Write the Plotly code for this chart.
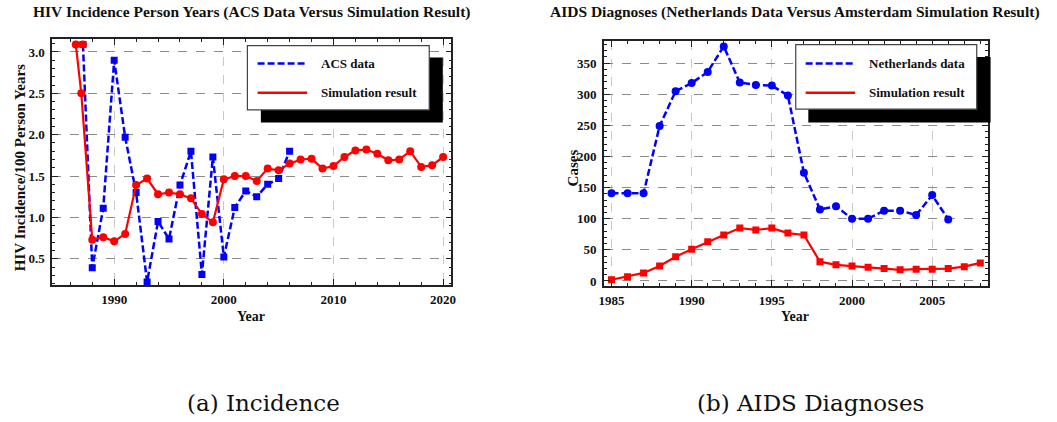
import plotly.graph_objects as go

W, H = 1057, 422

# ---------------- data: (a) Incidence ----------------
acs_years = [1987.15, 1988, 1989, 1990, 1991, 1992, 1993, 1994, 1995, 1996, 1997,
             1998, 1999, 2000, 2001, 2002, 2003, 2004, 2005, 2006]
acs_values = [3.09, 0.39, 1.11, 2.90, 1.97, 1.30, 0.22, 0.95, 0.74, 1.39, 1.80,
              0.31, 1.73, 0.52, 1.12, 1.32, 1.25, 1.40, 1.47, 1.80]

sim_a_years = [1987.15, 1986.5, 1987, 1988, 1989, 1990, 1991, 1992, 1993, 1994, 1995,
               1996, 1997, 1998, 1999, 2000, 2001, 2002, 2003, 2004, 2005, 2006,
               2007, 2008, 2009, 2010, 2011, 2012, 2013, 2014, 2015, 2016, 2017,
               2018, 2019, 2020]
sim_a_values = [3.09, 3.09, 2.50, 0.73, 0.76, 0.71, 0.80, 1.39, 1.47, 1.28, 1.30,
                1.28, 1.23, 1.04, 0.94, 1.46, 1.50, 1.50, 1.44, 1.59, 1.57, 1.65,
                1.70, 1.71, 1.59, 1.62, 1.73, 1.81, 1.82, 1.77, 1.69, 1.70, 1.80,
                1.61, 1.63, 1.73]

# ---------------- data: (b) AIDS Diagnoses ----------------
nl_years = [1985, 1986, 1987, 1988, 1989, 1990, 1991, 1992, 1993, 1994, 1995,
            1996, 1997, 1998, 1999, 2000, 2001, 2002, 2003, 2004, 2005, 2006]
nl_values = [141, 141, 141, 249, 305, 318, 336, 377, 319, 315, 314,
             298, 174, 115, 120, 100, 100, 113, 113, 106, 138, 99]

sim_b_years = [1985, 1986, 1987, 1988, 1989, 1990, 1991, 1992, 1993, 1994, 1995,
               1996, 1997, 1998, 1999, 2000, 2001, 2002, 2003, 2004, 2005, 2006,
               2007, 2008]
sim_b_values = [2, 7, 13, 24, 39, 51, 63, 74, 85, 82, 85,
                77, 74, 31, 26, 24, 22, 20, 18, 19, 19, 20, 23, 29]

title_a = "HIV Incidence Person Years (ACS Data Versus Simulation Result)"
title_b = "AIDS Diagnoses (Netherlands Data Versus Amsterdam Simulation Result)"
ylabel_a = "HIV Incidence/100 Person Years"
ylabel_b = "Cases"
xlabel = "Year"
legend_a = ["ACS data", "Simulation result"]
legend_b = ["Netherlands data", "Simulation result"]
caption_a = "(a) Incidence"
caption_b = "(b) AIDS Diagnoses"

BLUE = "#0000ff"
RED = "#ff0000"
SERIF = "Liberation Serif, Times New Roman, serif"


def px(x):
    return x / W


def py(y):
    return 1 - y / H


fig = go.Figure()

fig.add_trace(go.Scatter(x=acs_years, y=acs_values, mode="lines+markers",
                         line=dict(color=BLUE, width=2.5, dash="7px,3px"),
                         marker=dict(symbol="square", size=7, color=BLUE),
                         xaxis="x", yaxis="y", showlegend=False))
fig.add_trace(go.Scatter(x=sim_a_years, y=sim_a_values, mode="lines+markers",
                         line=dict(color=RED, width=2.2),
                         marker=dict(symbol="circle", size=8, color=RED),
                         xaxis="x", yaxis="y", showlegend=False))
fig.add_trace(go.Scatter(x=nl_years, y=nl_values, mode="lines+markers",
                         line=dict(color=BLUE, width=2.5, dash="7px,3px"),
                         marker=dict(symbol="circle", size=8, color=BLUE),
                         xaxis="x2", yaxis="y2", showlegend=False))
fig.add_trace(go.Scatter(x=sim_b_years, y=sim_b_values, mode="lines+markers",
                         line=dict(color=RED, width=2.2),
                         marker=dict(symbol="square", size=7, color=RED),
                         xaxis="x2", yaxis="y2", showlegend=False))

tickfont = dict(family=SERIF, size=13, color="#111", weight="bold")
common = dict(showline=True, linecolor="#222", linewidth=1.8, mirror="ticks",
              ticks="inside", ticklen=6, tickwidth=1, tickcolor="#222",
              tickfont=tickfont, zeroline=False, showgrid=True, griddash="dash",
              gridwidth=1)

fig.update_layout(
    width=W, height=H, margin=dict(l=0, r=0, t=0, b=0),
    paper_bgcolor="white", plot_bgcolor="white", showlegend=False,
    xaxis=dict(domain=[px(47.7), px(450.7)], range=[1984.35, 2020.76],
               tickvals=[1990, 2000, 2010, 2020], gridcolor="#c8c8c8",
               minor=dict(dtick=2, tick0=1990, ticklen=3, ticks="inside", tickcolor="#222", showgrid=False),
               anchor="y", ticklabelstandoff=2, **common),
    yaxis=dict(domain=[py(287), py(39)], range=[0.183, 3.16],
               tickvals=[0.5, 1.0, 1.5, 2.0, 2.5, 3.0], tickformat=".1f", gridcolor="#8c8c8c",
               minor=dict(dtick=0.1, tick0=0, ticklen=3, ticks="inside", tickcolor="#222", showgrid=False),
               anchor="x", ticklabelstandoff=3, **common),
    xaxis2=dict(domain=[px(604.7), px(992.7)], range=[1984.53, 2008.5],
                tickvals=[1985, 1990, 1995, 2000, 2005], gridcolor="#c8c8c8",
                minor=dict(dtick=1, tick0=1985, ticklen=3, ticks="inside", tickcolor="#222", showgrid=False),
                anchor="y2", ticklabelstandoff=2, **common),
    yaxis2=dict(domain=[py(287.7), py(41.7)], range=[-7.5, 385],
                tickvals=[0, 50, 100, 150, 200, 250, 300, 350], gridcolor="#8c8c8c",
                minor=dict(dtick=10, tick0=0, ticklen=3, ticks="inside", tickcolor="#222", showgrid=False),
                anchor="x2", ticklabelstandoff=3, **common),
)

shapes = []
annotations = []


def add_legend(box, shadow, line_x, text_x, ys, labels):
    shapes.append(dict(type="rect", xref="paper", yref="paper", layer="above",
                       x0=px(shadow[0]), x1=px(shadow[1]), y0=py(shadow[3]), y1=py(shadow[2]),
                       fillcolor="black", line=dict(width=0)))
    shapes.append(dict(type="rect", xref="paper", yref="paper", layer="above",
                       x0=px(box[0]), x1=px(box[1]), y0=py(box[3]), y1=py(box[2]),
                       fillcolor="white", line=dict(color="#444", width=1.2)))
    styles = [dict(color=BLUE, width=2.5, dash="7px,3px"), dict(color=RED, width=2.5)]
    for y, lab, st in zip(ys, labels, styles):
        shapes.append(dict(type="line", xref="paper", yref="paper", layer="above",
                           x0=px(line_x[0]), x1=px(line_x[1]), y0=py(y), y1=py(y), line=st))
        annotations.append(dict(text="<b>%s</b>" % lab, xref="paper", yref="paper",
                                x=px(text_x), y=py(y), xanchor="left", yanchor="middle",
                                showarrow=False, font=dict(family=SERIF, size=13, color="#111")))


add_legend((244.7, 428.3, 46, 110.7), (258.3, 442, 58, 123.3), (255, 305), 316.7, (64, 93.3), legend_a)
add_legend((798.3, 981, 45, 110), (811, 995, 57.3, 123.3), (808.3, 858.3), 870, (64, 93.3), legend_b)

for txt, x, y in [(title_a, 248.5, 12), (title_b, 798, 12)]:
    annotations.append(dict(text="<b>%s</b>" % txt, xref="paper", yref="paper", x=px(x), y=py(y),
                            xanchor="center", yanchor="middle", showarrow=False,
                            font=dict(family=SERIF, size=15.5, color="#111")))
for x in (248.7, 798):
    annotations.append(dict(text="<b>%s</b>" % xlabel, xref="paper", yref="paper", x=px(x), y=py(319),
                            xanchor="center", yanchor="middle", showarrow=False,
                            font=dict(family=SERIF, size=14, color="#111")))
for txt, x, y in [(ylabel_a, 14.5, 169), (ylabel_b, 573, 169)]:
    annotations.append(dict(text="<b>%s</b>" % txt, xref="paper", yref="paper", x=px(x), y=py(y),
                            xanchor="center", yanchor="middle", showarrow=False, textangle=-90,
                            font=dict(family=SERIF, size=15, color="#111")))
for txt, x in [(caption_a, 260.5), (caption_b, 813)]:
    annotations.append(dict(text=txt, xref="paper", yref="paper", x=px(x), y=py(406),
                            xanchor="center", yanchor="middle", showarrow=False,
                            font=dict(family="DejaVu Serif, serif", size=23, color="#111")))

fig.update_layout(shapes=shapes, annotations=annotations)
fig.write_html("out.html", config={"displayModeBar": False},
               post_script="document.body.style.margin='0';document.body.style.overflow='hidden';")
